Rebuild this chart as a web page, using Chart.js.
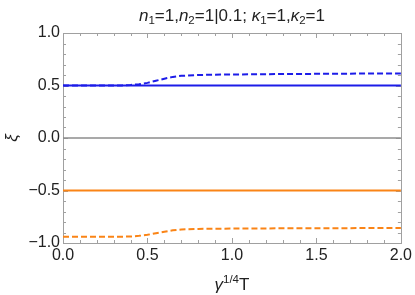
<!DOCTYPE html>
<html>
<head>
<meta charset="utf-8">
<script src="https://cdn.jsdelivr.net/npm/chart.js@4"></script>
<style>
  html, body { margin: 0; padding: 0; background: #fff; }
  #wrap { width: 415px; height: 295px; }
</style>
</head>
<body>
<div id="wrap"><canvas id="xiChart"></canvas></div>
<script>
// sample points of gamma^(1/4) T
var tValues = [0, 0.1, 0.2, 0.3, 0.35, 0.4, 0.45, 0.5, 0.55, 0.6, 0.65, 0.7, 0.8, 0.9, 1.0, 1.2, 1.4, 1.6, 1.8, 2.0];
var blueDashed = [0.5, 0.5, 0.5, 0.5, 0.501, 0.505, 0.512, 0.525, 0.545, 0.565, 0.582, 0.592, 0.6, 0.603, 0.605, 0.608, 0.61, 0.612, 0.614, 0.615];
var orangeDashed = [-0.94, -0.94, -0.94, -0.94, -0.94, -0.938, -0.932, -0.922, -0.907, -0.892, -0.879, -0.871, -0.866, -0.864, -0.863, -0.861, -0.86, -0.859, -0.858, -0.857];

// flat lines
var flatT = [0, 2];
var blueSolid = [0.5, 0.5];
var orangeSolid = [-0.5, -0.5];
var grayZero = [0, 0];

var xTicks = [0, 0.5, 1, 1.5, 2];
var yTicks = [-1, -0.5, 0, 0.5, 1];

var BLUE = "rgb(28,28,232)";
var ORANGE = "rgb(250,132,22)";
var GRAY = "rgb(140,140,140)";
var FRAME = "rgb(160,160,160)";
var FONT = "'Liberation Sans', Arial, sans-serif";

function pts(xs, ys) {
    return xs.map(function (x, i) { return { x: x, y: ys[i] }; });
}

function fmt(v) {
    return v.toFixed(1).replace("-", "\u2212");
}

// draw a line of text made of runs with own font / vertical offset, centred at cx
function drawRuns(ctx, runs, cx, y) {
    var total = 0;
    runs.forEach(function (r) {
        ctx.font = r.font;
        r.w = ctx.measureText(r.t).width;
        total += r.w;
    });
    var x = cx - total / 2;
    ctx.textAlign = "left";
    ctx.textBaseline = "alphabetic";
    runs.forEach(function (r) {
        ctx.font = r.font;
        ctx.fillText(r.t, x, y + (r.dy || 0));
        x += r.w;
    });
}

var frameTicks = {
    id: "frameTicks",
    beforeDatasetsDraw: function (chart) {
        var ctx = chart.ctx, a = chart.chartArea;
        var xs = chart.scales.x, ys = chart.scales.y;
        ctx.save();
        ctx.strokeStyle = FRAME;
        ctx.lineWidth = 1;
        ctx.beginPath();
        var i, v, p, len;
        for (i = 0; i <= 20; i++) {
            v = i / 10;
            len = (i % 5 === 0) ? 5 : 3;
            p = Math.round(xs.getPixelForValue(v)) + 0.5;
            ctx.moveTo(p, a.bottom); ctx.lineTo(p, a.bottom - len);
            ctx.moveTo(p, a.top); ctx.lineTo(p, a.top + len);
        }
        for (i = 0; i <= 20; i++) {
            v = -1 + i / 10;
            len = (i % 5 === 0) ? 5 : 3;
            p = Math.round(ys.getPixelForValue(v)) + 0.5;
            ctx.moveTo(a.left, p); ctx.lineTo(a.left + len, p);
            ctx.moveTo(a.right, p); ctx.lineTo(a.right - len, p);
        }
        ctx.stroke();
        ctx.strokeRect(Math.round(a.left) + 0.5, Math.round(a.top) + 0.5,
            Math.round(a.right - a.left), Math.round(a.bottom - a.top));
        ctx.restore();
    },
    afterDraw: function (chart) {
        var ctx = chart.ctx, a = chart.chartArea;
        var cx = (a.left + a.right) / 2;
        var it = "italic 17px " + FONT, nm = "17px " + FONT, sm = "11.5px " + FONT;
        ctx.save();
        ctx.fillStyle = "#222";
        drawRuns(ctx, [
            { t: "n", font: it }, { t: "1", font: sm, dy: 3 }, { t: "=1,", font: nm },
            { t: "n", font: it }, { t: "2", font: sm, dy: 3 }, { t: "=1|0.1; ", font: nm },
            { t: "\u03BA", font: it }, { t: "1", font: sm, dy: 3 }, { t: "=1,", font: nm },
            { t: "\u03BA", font: it }, { t: "2", font: sm, dy: 3 }, { t: "=1", font: nm }
        ], cx, 21);
        drawRuns(ctx, [
            { t: "\u03B3", font: it }, { t: "1/4", font: sm, dy: -7 }, { t: "T", font: nm }
        ], cx, 290);
        ctx.translate(17, (a.top + a.bottom) / 2);
        ctx.rotate(-Math.PI / 2);
        drawRuns(ctx, [{ t: "\u03BE", font: it }], 0, 0);
        ctx.restore();
    }
};

new Chart("xiChart", {
    type: "line",
    data: {
        datasets: [{
            data: pts(flatT, grayZero),
            borderColor: GRAY,
            borderWidth: 1.5
        }, {
            data: pts(flatT, orangeSolid),
            borderColor: ORANGE,
            borderWidth: 2
        }, {
            data: pts(flatT, blueSolid),
            borderColor: BLUE,
            borderWidth: 2
        }, {
            data: pts(tValues, orangeDashed),
            borderColor: ORANGE,
            borderWidth: 2,
            borderDash: [6, 3]
        }, {
            data: pts(tValues, blueDashed),
            borderColor: BLUE,
            borderWidth: 2,
            borderDash: [6, 3]
        }]
    },
    options: {
        responsive: true,
        maintainAspectRatio: false,
        animation: false,
        layout: { padding: { top: 33, right: 12, left: 0, bottom: 0 } },
        elements: { point: { radius: 0 }, line: { tension: 0, fill: false } },
        plugins: {
            legend: { display: false },
            tooltip: { enabled: false }
        },
        scales: {
            x: {
                type: "linear",
                min: 0,
                max: 2,
                afterBuildTicks: function (s) { s.ticks = xTicks.map(function (v) { return { value: v }; }); },
                afterFit: function (s) { s.height = 52; },
                grid: { display: false, drawTicks: false },
                border: { display: false },
                ticks: {
                    padding: 3,
                    color: "#222",
                    maxRotation: 0,
                    font: { family: FONT, size: 16 },
                    callback: function (v) { return fmt(v); }
                }
            },
            y: {
                min: -1,
                max: 1,
                afterBuildTicks: function (s) { s.ticks = yTicks.map(function (v) { return { value: v }; }); },
                afterFit: function (s) { s.width = 63; },
                grid: { display: false, drawTicks: false },
                border: { display: false },
                ticks: {
                    padding: 3,
                    color: "#222",
                    font: { family: FONT, size: 16 },
                    callback: function (v) { return fmt(v); }
                }
            }
        }
    },
    plugins: [frameTicks]
});
</script>
</body>
</html>
